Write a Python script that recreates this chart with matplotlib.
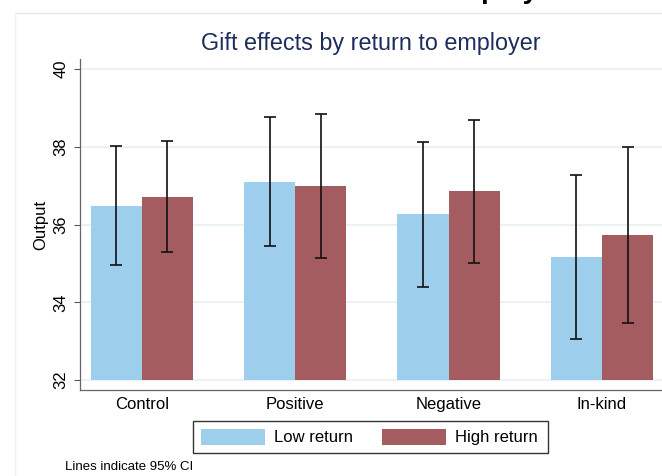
import matplotlib
matplotlib.use('Agg')
import matplotlib.pyplot as plt
from matplotlib.patches import Rectangle
from matplotlib.lines import Line2D
import numpy as np

# ---- data ----
categories = ['Control', 'Positive', 'Negative', 'In-kind']
series_names = ['Low return', 'High return']
low_mean = [36.48, 37.10, 36.26, 35.17]
low_ci_lo = [34.95, 35.45, 34.38, 33.06]
low_ci_hi = [38.03, 38.77, 38.13, 37.28]
high_mean = [36.72, 36.98, 36.86, 35.73]
high_ci_lo = [35.30, 35.15, 35.01, 33.47]
high_ci_hi = [38.14, 38.84, 38.70, 38.00]
yticks = [32, 34, 36, 38, 40]
bar_base = 32

title = 'Gift effects by return to employer'
ylabel = 'Output'
note = 'Lines indicate 95% CI'

plt.rcParams['font.family'] = ['Liberation Sans', 'DejaVu Sans']

W, H = 662, 476
fig = plt.figure(figsize=(W / 100, H / 100), dpi=100)
fig.patch.set_facecolor('white')

def fx(px):
    return px / W

def fy(py):
    return 1 - py / H

ax_left, ax_right, ax_top, ax_bottom = 80, 662, 59.3, 390
ax = fig.add_axes([fx(ax_left), fy(ax_bottom), fx(ax_right - ax_left), (ax_bottom - ax_top) / H])

c_low = '#9dcfec'
c_high = '#a55c61'
x = np.arange(len(categories))
bw = 1 / 3

def yerr(mean, lo, hi):
    m = np.array(mean)
    return np.vstack([m - np.array(lo), np.array(hi) - m])

ax.bar(x - bw / 2, np.array(low_mean) - bar_base, bw, bottom=bar_base, color=c_low, zorder=2)
ax.bar(x + bw / 2, np.array(high_mean) - bar_base, bw, bottom=bar_base, color=c_high, zorder=2)

ax.errorbar(x - bw / 2, low_mean, yerr=yerr(low_mean, low_ci_lo, low_ci_hi), fmt='none',
            ecolor='#111111', elinewidth=1.2, capsize=4.5, capthick=1.2, zorder=3)
ax.errorbar(x + bw / 2, high_mean, yerr=yerr(high_mean, high_ci_lo, high_ci_hi), fmt='none',
            ecolor='#111111', elinewidth=1.2, capsize=4.5, capthick=1.2, zorder=3)

ax.set_ylim(31.743, 40.25)
ax.set_xlim(-0.402, 3.391)
ax.set_yticks(yticks)
ax.set_yticklabels([str(t) for t in yticks])
ax.set_xticks(x)
ax.set_xticklabels(categories)
ax.tick_params(axis='y', labelrotation=90, length=4.3, width=0.8, color='#555555', labelsize=12, pad=4)
for lab in ax.get_yticklabels():
    lab.set_va('center')
ax.tick_params(axis='x', length=0, labelsize=12, pad=5)
ax.grid(axis='y', color='#e8f0f2', lw=1.2, zorder=0)
ax.set_axisbelow(True)
for s in ['top', 'right']:
    ax.spines[s].set_visible(False)
for s in ['left', 'bottom']:
    ax.spines[s].set_color('#666666')
    ax.spines[s].set_linewidth(0.9)
ax.set_ylabel(ylabel, fontsize=12)
ax.yaxis.set_label_coords((48 - ax_left) / (ax_right - ax_left), 0.5)

# title
fig.text(fx(371), fy(43.5), title, ha='center', va='center', fontsize=16.8, color='#1c2d5c')

# cut-off heading at very top (cropped in the reference too)
fig.text(fx(438), 1 + 2.5 / H, 'Employer', ha='left', va='baseline', fontsize=20,
         fontweight='bold', color='black')

# outer frame lines
fig.add_artist(Line2D([fx(15), 1], [fy(13), fy(13)], color='#e6e6e6', lw=1))
fig.add_artist(Line2D([fx(15), fx(15)], [fy(13), 0], color='#eef4f6', lw=1))

# legend (manual)
fig.add_artist(Rectangle((fx(193), fy(453)), fx(548 - 193), (453 - 421) / H,
                         facecolor='white', edgecolor='#333333', lw=1))
fig.add_artist(Rectangle((fx(201), fy(445)), fx(64), 16 / H, facecolor=c_low, edgecolor='none'))
fig.text(fx(274), fy(437.5), series_names[0], ha='left', va='center', fontsize=12)
fig.add_artist(Rectangle((fx(382), fy(445)), fx(64), 16 / H, facecolor=c_high, edgecolor='none'))
fig.text(fx(455), fy(437.5), series_names[1], ha='left', va='center', fontsize=12)

fig.text(fx(65), fy(467), note, ha='left', va='center', fontsize=9.5)

fig.savefig('out.png', dpi=100)
